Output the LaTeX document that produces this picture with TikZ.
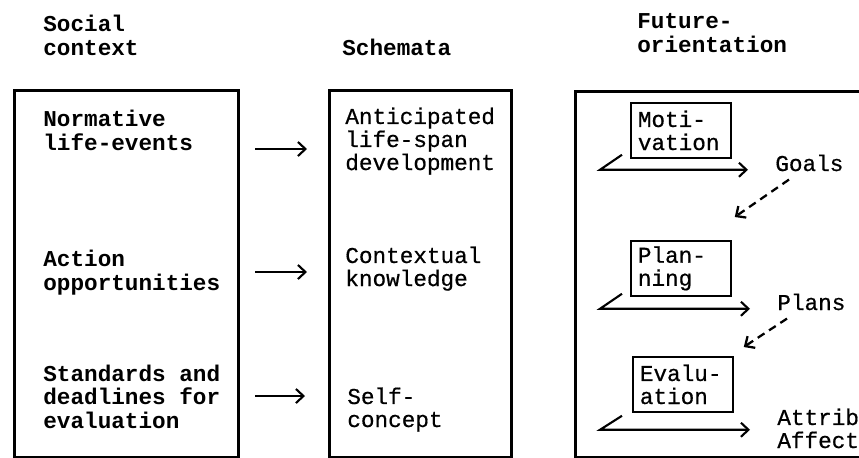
\documentclass[tikz,border=0pt]{standalone}
\usepackage{fontspec}
\setmonofont{Liberation Mono}
\newfontfamily\maquina[FakeBold=0.6]{Liberation Mono}
\usetikzlibrary{arrows.meta}

\begin{document}
\begin{tikzpicture}[
    every node/.style={font=\maquina\fontsize{12.9pt}{13.1pt}\selectfont, inner sep=0pt, align=left},
    titulo/.style={anchor=base west, font=\ttfamily\bfseries\fontsize{12.9pt}{13.1pt}\selectfont},
    texto/.style={anchor=base west},
    columna/.style={draw, line width=1.6pt, anchor=north west},
    caja/.style={draw, line width=1pt, anchor=north west, inner xsep=0.14cm, text width=1.72cm, minimum height=1.1cm},
    flecha/.style={line width=1.2pt, -{Straight Barb[length=1.5mm,width=2.8mm]}},
    discont/.style={flecha, line width=1.3pt, dash pattern=on 1.6mm off 1.1mm}
]
\useasboundingbox (0,0) rectangle (17.18,-9.14);
\clip (0,0) rectangle (17.18,-9.14);

% -------- Títulos de las columnas --------
% (ancla base = línea base de la última línea)
\node[titulo] (tsocial) at (0.86,-1.10) {Social\\context};
\node[titulo] (tschema) at (6.84,-1.10) {Schemata};
\node[titulo] (tfuture) at (12.74,-1.04) {Future-\\orientation};

% -------- Columnas (el borde inferior queda cortado) --------
\node[columna, minimum width=4.48cm, minimum height=7.34cm] (social) at (0.26,-1.78) {};
\node[columna, minimum width=3.64cm, minimum height=7.34cm] (schema) at (6.56,-1.78) {};
\node[columna, minimum width=6.52cm, minimum height=7.32cm] (future) at (11.48,-1.80) {};

% Contexto social (en negrita)
\node[titulo] (norm) at (0.86,-3.00) {Normative\\life-events};
\node[titulo] (action) at (0.86,-5.80) {Action\\opportunities};
\node[titulo] (stand) at (0.86,-8.56) {Standards and\\deadlines for\\evaluation};

% Esquemas
\node[texto] (antic) at (6.90,-3.40) {Anticipated\\life-span\\development};
\node[texto] (context) at (6.90,-5.72) {Contextual\\knowledge};
\node[texto] (self) at (6.94,-8.54) {Self-\\concept};

% Flechas entre columnas
\coordinate (f1a) at (5.10,-2.98);
\coordinate (f1b) at (6.14,-2.98);
\coordinate (f2a) at (5.10,-5.44);
\coordinate (f2b) at (6.14,-5.44);
\coordinate (f3a) at (5.10,-7.92);
\coordinate (f3b) at (6.10,-7.92);
\draw[flecha] (f1a) -- (f1b);
\draw[flecha] (f2a) -- (f2b);
\draw[flecha] (f3a) -- (f3b);

% -------- Orientación al futuro --------
\node[caja] (motiv) at (12.60,-2.04) {Moti-\\vation};
\node[caja] (plan) at (12.60,-4.80) {Plan-\\ning};
\node[caja] (eval) at (12.64,-7.12) {Evalu-\\ation};

\node[texto] (goals) at (15.50,-3.42) {Goals};
\node[texto] (plans) at (15.54,-6.20) {Plans};
\node[texto] (attrib) at (15.54,-8.96) {Attrib\\Affect};

% ganchos bajo cada caja
\draw[flecha] ([shift={(-0.16,0.08)}]motiv.south west) -- ++(-0.44,-0.30) -- ++(2.96,0);
\draw[flecha] ([shift={(-0.16,0.06)}]plan.south west) -- ++(-0.44,-0.30) -- ++(3.00,0);
\draw[flecha] ([shift={(-0.20,-0.06)}]eval.south west) -- ++(-0.44,-0.28) -- ++(3.00,0);

% metas -> planificación -> evaluación (discontinuas)
\draw[discont] ([shift={(0.28,-0.16)}]goals.south west) -- ([shift={(0.06,0.46)}]plan.north east);
\draw[discont] ([shift={(0.20,-0.16)}]plans.south west) -- ([shift={(0.20,0.18)}]eval.north east);
\end{tikzpicture}
\end{document}
